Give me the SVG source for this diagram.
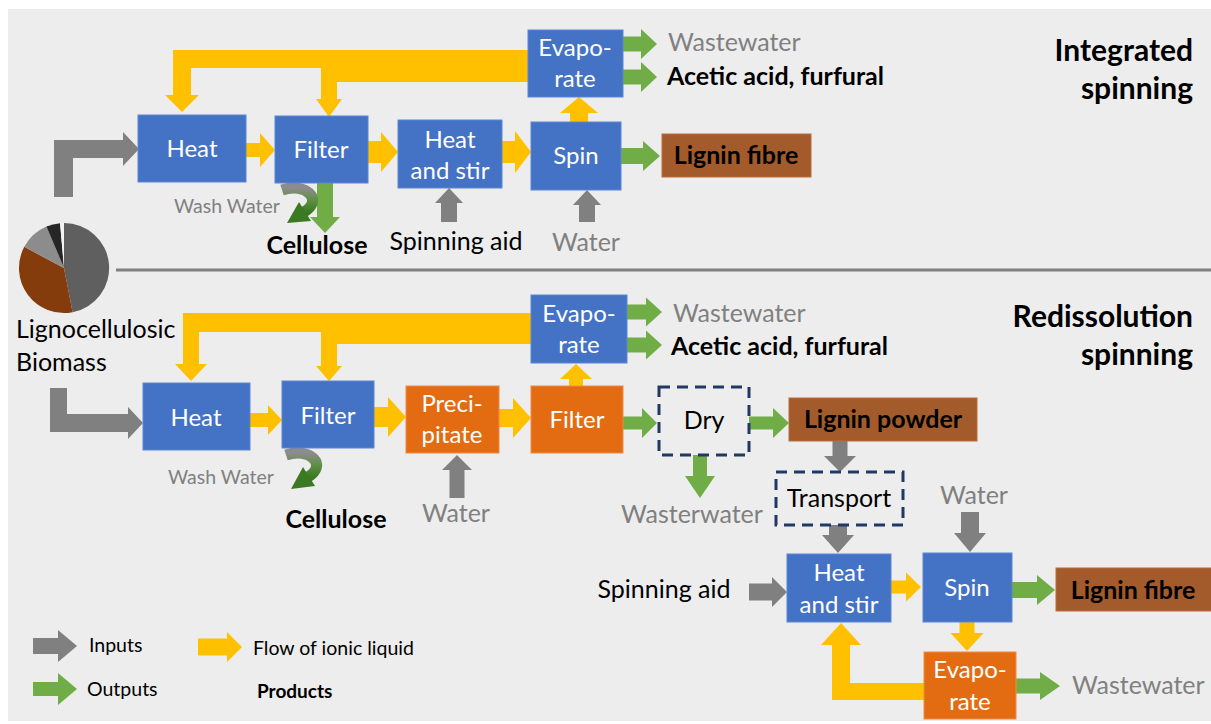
<svg xmlns="http://www.w3.org/2000/svg" width="1211" height="724" viewBox="0 0 1211 724">
<defs>
<style>
text{font-family:Lato,"Liberation Sans",sans-serif;}
.bl{fill:#4472c4;stroke:#5b87d4;stroke-width:1}
.or{fill:#e36c12;stroke:#ef8a44;stroke-width:1}
.br{fill:#a35b2b;stroke:#b86e3a;stroke-width:1}
.da{fill:none;stroke:#1f3864;stroke-width:3;stroke-dasharray:11 7}
.wt{fill:#fff;font-size:24px;text-anchor:middle}
.kt{fill:#000;font-size:25px}
.gt{fill:#808080;font-size:25px}
.bt{fill:#000;font-size:25px;font-weight:bold}
.hd{fill:#000;font-size:30px;font-weight:bold;text-anchor:end}
.lg{fill:#000;font-size:19.5px}
.ww{fill:#808080;font-size:19.5px}
.yl{fill:#ffc000}
.gn{fill:#70ad47}
.gy{fill:#808080}
.mid{text-anchor:middle}
</style>
<linearGradient id="wash" x1="0" y1="0" x2="0" y2="1">
<stop offset="0" stop-color="#8c8c8c"/>
<stop offset="0.5" stop-color="#5f8f45"/>
<stop offset="1" stop-color="#3b7a23"/>
</linearGradient>
</defs>
<rect x="0" y="0" width="1211" height="724" fill="#ffffff"/>
<rect x="8" y="9" width="1203" height="712" fill="#ededed"/>
<line x1="116" y1="270" x2="1211" y2="270" stroke="#808080" stroke-width="3"/>

<g id="pie">
<path d="M64 268 L64 223 A45 45 0 0 1 72.6 312.2 Z" fill="#5f5f5f"/>
<path d="M64 268 L72.6 312.2 A45 45 0 0 1 24.27 246.87 Z" fill="#843c0c"/>
<path d="M64 268 L24.27 246.87 A45 45 0 0 1 46.42 226.58 Z" fill="#8c8c8c"/>
<path d="M64 268 L46.42 226.58 A45 45 0 0 1 60.08 223.17 Z" fill="#262626"/>
<path d="M64 268 L60.08 223.17 A45 45 0 0 1 64 223 Z" fill="#f4f4f4"/>
</g>

<g id="connectors">
<!-- top -->
<polygon class="yl" points="173,50 528,50 528,82 337,82 337,99 342,99 329,117 316,99 321,99 321,68 191,68 191,95 199,95 182,112 165,95 173,95"/>
<polygon class="gy" points="54,197 54,140 123,140 123,132 139,149 123,166 123,158 73,158 73,197"/>
<polygon class="yl" points="246,143 260,143 260,133 275,150 260,167 260,157 246,157"/>
<polygon class="yl" points="368,141 381,141 381,132 398,152 381,172 381,163 368,163"/>
<polygon class="yl" points="502,141 515,141 515,131 531,152 515,173 515,163 502,163"/>
<polygon class="yl" points="570,122 570,113 560,113 579,97 598,113 588,113 588,122"/>
<polygon class="gn" points="623,36.5 641,36.5 641,29 657,44 641,59 641,51.5 623,51.5"/>
<polygon class="gn" points="623,69.5 641,69.5 641,62 657,77 641,92 641,84.5 623,84.5"/>
<polygon class="gn" points="621,148 643,148 643,141 660,156 643,171 643,164 621,164"/>
<polygon class="gy" points="441,222 441,203 435,203 449,188 463,203 457,203 457,222"/>
<polygon class="gy" points="579,222 579,205 573,205 587,190 601,205 595,205 595,222"/>
<polygon class="gn" points="317,182 317,217 310,217 325,233 340,217 333,217 333,182"/>
<path d="M282 190 C306 182 324 200 304 212" fill="none" stroke="url(#wash)" stroke-width="11"/>
<polygon points="311,221 299,202 287,223" fill="#3b7a23"/>
<!-- bottom -->
<polygon class="yl" points="183,313 531,313 531,344 337,344 337,366 342,366 329,381 316,366 321,366 321,332 199,332 199,364 207,364 191,381 175,364 183,364"/>
<polygon class="gy" points="50,388 67,388 67,414 128,414 128,407 143,423 128,439 128,432 50,432"/>
<polygon class="yl" points="250,413 268,413 268,405 282,420 268,435 268,427 250,427"/>
<polygon class="yl" points="374,407 388,407 388,397 406,417 388,437 388,427 374,427"/>
<polygon class="yl" points="499,409 513,409 513,398 531,418 513,438 513,427 499,427"/>
<polygon class="yl" points="569,386 569,379 560,379 576,364 592,379 583,379 583,386"/>
<polygon class="gn" points="627,304.5 646,304.5 646,297.5 662,312 646,326.5 646,319.5 627,319.5"/>
<polygon class="gn" points="627,337.5 646,337.5 646,330.5 662,345 646,359.5 646,352.5 627,352.5"/>
<polygon class="gy" points="449.5,498 449.5,470 442,470 457,455 472,470 464.5,470 464.5,498"/>
<polygon class="gn" points="623,416.5 642,416.5 642,408 657,423 642,438 642,429.5 623,429.5"/>
<polygon class="gn" points="693,455 693,476 685,476 700,498 715,476 707,476 707,455"/>
<polygon class="gn" points="749,416.5 773,416.5 773,408 789,423 773,438 773,429.5 749,429.5"/>
<polygon class="gy" points="832.5,441 832.5,456 824,456 840,472 856,456 847.5,456 847.5,441"/>
<polygon class="gy" points="829,525 829,535 822,535 838,553 854,535 847,535 847,525"/>
<polygon class="gy" points="961,512 961,533 954,533 970,552 986,533 979,533 979,512"/>
<polygon class="gy" points="749,583.5 772,583.5 772,577 787,592 772,607 772,600.5 749,600.5"/>
<polygon class="yl" points="891,580.5 906,580.5 906,572.5 921,587 906,601.5 906,593.5 891,593.5"/>
<polygon class="gn" points="1012,582 1037,582 1037,575 1055,590 1037,605 1037,598 1012,598"/>
<polygon class="yl" points="959.5,622 959.5,633 950.5,633 967,651 983.5,633 974.5,633 974.5,622"/>
<polygon class="gn" points="1016,678.5 1040,678.5 1040,672 1060,686 1040,700 1040,693.5 1016,693.5"/>
<polygon class="yl" points="924,683 924,700 832,700 832,645 821,645 841,623 861,645 850,645 850,683"/>
<path d="M286 455 C310 447 328 465 308 477" fill="none" stroke="url(#wash)" stroke-width="11"/>
<polygon points="315,486 303,467 291,489" fill="#3b7a23"/>
</g>

<!-- top nodes -->
<g id="t-heat"><rect class="bl" x="138" y="115" width="108" height="67"/><text class="wt" x="192" y="157">Heat</text></g>
<g id="t-filter"><rect class="bl" x="275" y="116" width="93" height="67"/><text class="wt" x="321" y="158">Filter</text></g>
<g id="t-heatstir"><rect class="bl" x="398" y="120" width="104" height="68"/><text class="wt" x="450" y="148">Heat</text><text class="wt" x="450" y="179">and stir</text></g>
<g id="t-spin"><rect class="bl" x="531" y="122" width="90" height="68"/><text class="wt" x="576" y="164">Spin</text></g>
<g id="t-evap"><rect class="bl" x="528" y="30" width="95" height="67"/><text class="wt" x="575" y="56">Evapo-</text><text class="wt" x="575" y="87">rate</text></g>
<g id="t-fibre"><rect class="br" x="662" y="134" width="149" height="43"/><text class="bt mid" x="736" y="164">Lignin fibre</text></g>
<g id="t-labels">
<text class="gt" x="668" y="51">Wastewater</text>
<text class="bt" x="667" y="85">Acetic acid, furfural</text>
<text class="ww" x="174" y="213">Wash Water</text>
<text class="bt mid" x="317" y="254">Cellulose</text>
<text class="kt mid" x="456" y="250">Spinning aid</text>
<text class="gt mid" x="586" y="251">Water</text>
<text class="hd" x="1193" y="61">Integrated</text>
<text class="hd" x="1193" y="99">spinning</text>
</g>

<!-- bottom nodes -->
<g id="biomass"><text class="kt" x="16" y="338">Lignocellulosic</text><text class="kt" x="16" y="371">Biomass</text></g>
<g id="b-heat"><rect class="bl" x="143" y="383" width="107" height="67"/><text class="wt" x="196" y="426">Heat</text></g>
<g id="b-filter"><rect class="bl" x="282" y="381" width="92" height="67"/><text class="wt" x="328" y="424">Filter</text></g>
<g id="b-precip"><rect class="or" x="406" y="386" width="93" height="67"/><text class="wt" x="452" y="412">Preci-</text><text class="wt" x="452" y="443">pitate</text></g>
<g id="b-filter2"><rect class="or" x="531" y="386" width="92" height="67"/><text class="wt" x="577" y="428">Filter</text></g>
<g id="b-evap"><rect class="bl" x="531" y="295" width="96" height="68"/><text class="wt" x="579" y="322">Evapo-</text><text class="wt" x="579" y="353">rate</text></g>
<g id="b-dry"><rect class="da" x="659" y="387" width="90" height="68"/><text class="kt mid" x="704" y="429">Dry</text></g>
<g id="b-powder"><rect class="br" x="789" y="398" width="188" height="43"/><text class="bt mid" x="883" y="428">Lignin powder</text></g>
<g id="b-transport"><rect class="da" x="776" y="472" width="127" height="53"/><text class="kt mid" x="839" y="507">Transport</text></g>
<g id="b-heatstir"><rect class="bl" x="787" y="554" width="104" height="68"/><text class="wt" x="839" y="581">Heat</text><text class="wt" x="839" y="613">and stir</text></g>
<g id="b-spin"><rect class="bl" x="923" y="553" width="89" height="69"/><text class="wt" x="967" y="596">Spin</text></g>
<g id="b-fibre"><rect class="br" x="1056" y="568" width="156" height="43"/><text class="bt mid" x="1133" y="599">Lignin fibre</text></g>
<g id="b-evap2"><rect class="or" x="924" y="652" width="92" height="67"/><text class="wt" x="970" y="678">Evapo-</text><text class="wt" x="970" y="710">rate</text></g>
<g id="b-labels">
<text class="gt" x="673" y="322">Wastewater</text>
<text class="bt" x="671" y="355">Acetic acid, furfural</text>
<text class="ww" x="168" y="484">Wash Water</text>
<text class="bt mid" x="336" y="528">Cellulose</text>
<text class="gt mid" x="456" y="522">Water</text>
<text class="gt mid" x="692" y="523">Wasterwater</text>
<text class="gt mid" x="974" y="504">Water</text>
<text class="kt mid" x="664" y="598">Spinning aid</text>
<text class="gt" x="1072" y="694">Wastewater</text>
<text class="hd" x="1193" y="327">Redissolution</text>
<text class="hd" x="1193" y="365">spinning</text>
</g>

<g id="legend">
<polygon class="gy" points="33,638 58,638 58,630 77,646 58,662 58,654 33,654"/>
<text class="lg" x="89" y="652">Inputs</text>
<polygon class="gn" points="33,682 58,682 58,673 77,689 58,705 58,696 33,696"/>
<text class="lg" x="87" y="696">Outputs</text>
<polygon class="yl" points="198,638.5 227,638.5 227,632 242,647 227,662 227,655.5 198,655.5"/>
<text class="lg" x="253" y="655">Flow of ionic liquid</text>
<text x="257" y="698" style="font-size:19px;font-weight:bold">Products</text>
</g>
</svg>
